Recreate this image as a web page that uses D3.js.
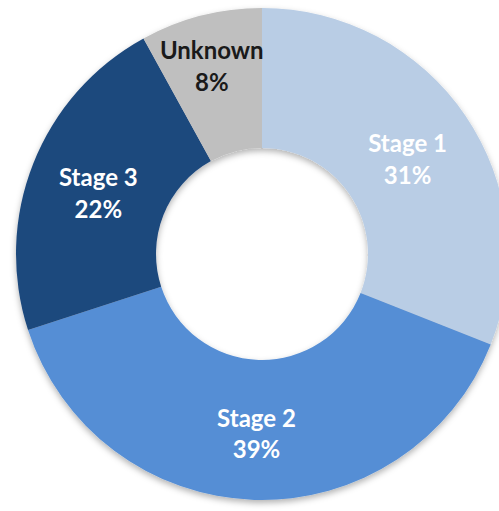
<!DOCTYPE html>
<html>
<head>
<meta charset="utf-8">
<script src="https://cdn.jsdelivr.net/npm/d3@7"></script>
<style>
  body { margin: 0; background: #fff; }
  svg { display: block; }
</style>
</head>
<body>
<script>
// chart data
var stages = ["Stage 1", "Stage 2", "Stage 3", "Unknown"];
var shares = [31, 39, 22, 8];
var sliceColors = ["#b9cde5", "#558ed5", "#1f497d", "#bfbfbf"];
var labelColors = ["#ffffff", "#ffffff", "#ffffff", "#1a1a1a"];

var width = 499;
var height = 511;
var cx = 262;
var cy = 254;
var outerR = 246;
var innerR = 106;

var svg = d3.select("body").append("svg")
  .attr("width", width)
  .attr("height", height);

var defs = svg.append("defs");
var shadow = defs.append("filter")
  .attr("id", "shadow")
  .attr("x", "-10%").attr("y", "-10%")
  .attr("width", "120%").attr("height", "120%");
shadow.append("feDropShadow")
  .attr("dx", 0).attr("dy", 3)
  .attr("stdDeviation", 3)
  .attr("flood-color", "#000")
  .attr("flood-opacity", 0.3);

var data = stages.map(function (s, i) {
  return { stage: s, share: shares[i], i: i };
});

var pie = d3.pie()
  .value(function (d) { return d.share; })
  .sort(null);

var arc = d3.arc().innerRadius(innerR).outerRadius(outerR);

var g = svg.append("g")
  .attr("transform", "translate(" + cx + "," + cy + ")");

g.append("g")
  .attr("filter", "url(#shadow)")
  .selectAll("path")
  .data(pie(data))
  .enter()
  .append("path")
  .attr("d", arc)
  .attr("fill", function (d) { return sliceColors[d.data.i]; });

var labels = g.selectAll("text.lbl")
  .data(pie(data))
  .enter()
  .append("text")
  .attr("class", "lbl")
  .attr("transform", function (d) {
    var c = arc.centroid(d);
    // narrow slices get pushed outward, like the original
    if (d.endAngle - d.startAngle < 0.1 * 2 * Math.PI) {
      var k = 198 / Math.sqrt(c[0] * c[0] + c[1] * c[1]);
      c = [c[0] * k - 1, c[1] * k];
    }
    return "translate(" + c[0] + "," + c[1] + ")";
  })
  .attr("text-anchor", "middle")
  .style("font-family", "Lato, 'Open Sans', sans-serif")
  .style("font-weight", "700")
  .style("font-size", "24px")
  .attr("fill", function (d) { return labelColors[d.data.i]; });

labels.append("tspan")
  .attr("x", 0)
  .attr("dy", "-0.14em")
  .text(function (d) { return d.data.stage; });

labels.append("tspan")
  .attr("x", 0)
  .attr("dy", "1.33em")
  .text(function (d) { return d.data.share + "%"; });
</script>
</body>
</html>
